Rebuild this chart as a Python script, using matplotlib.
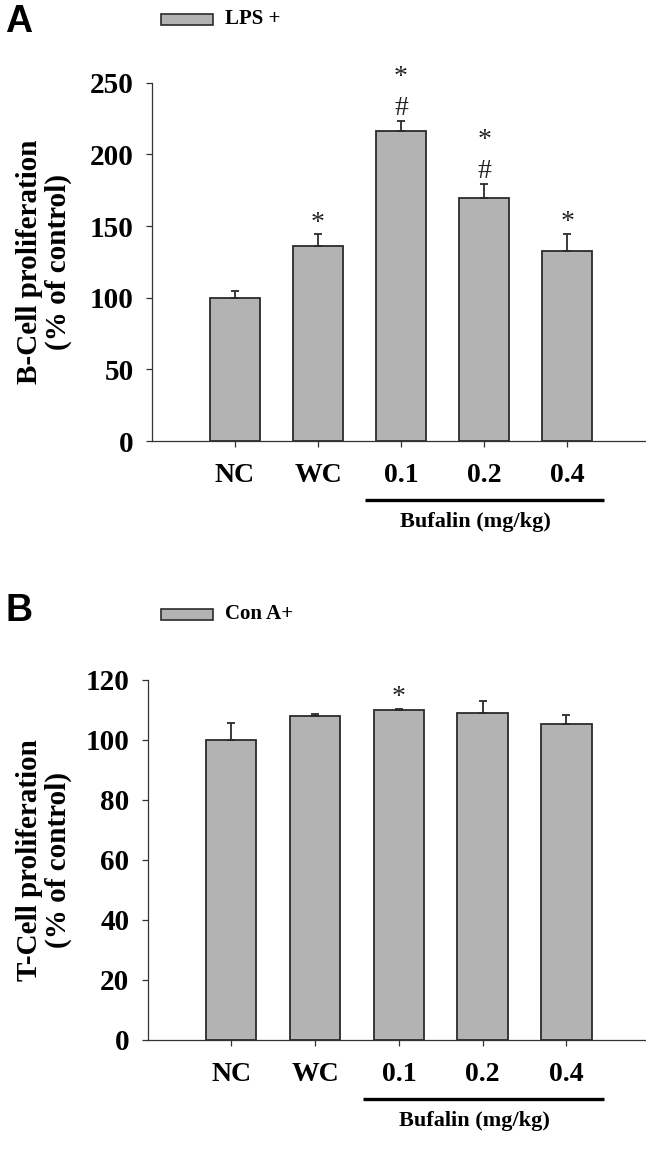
import matplotlib
matplotlib.use("Agg")
import matplotlib.pyplot as plt
from matplotlib.patches import Rectangle
from matplotlib.transforms import offset_copy
import numpy as np

# ---- data ----
categories = ["NC", "WC", "0.1", "0.2", "0.4"]
b_cell_mean = [100, 136, 216, 169.5, 132.5]
b_cell_err = [5, 8.3, 7.6, 9.8, 12]
b_cell_marks = ["", "*", "*\n#", "*\n#", "*"]
b_yticks = [0, 50, 100, 150, 200, 250]

t_cell_mean = [100, 108, 110, 109, 105.3]
t_cell_err = [5.8, 0.6, 0.4, 4, 3]
t_cell_marks = ["", "", "*", "", ""]
t_yticks = [0, 20, 40, 60, 80, 100, 120]

group_label = "Bufalin (mg/kg)"

W, H = 646, 1151
DPI = 100
fig = plt.figure(figsize=(W / DPI, H / DPI), dpi=DPI)

SERIF = "Liberation Serif"
BAR_COLOR = "#b3b3b3"
EDGE = "#2b2b2b"


def px_rect(left, top, right, bottom):
    return [left / W, 1 - bottom / H, (right - left) / W, (bottom - top) / H]


def draw_panel(rect, means, errs, marks, yticks, ylabel, letter, legend_text,
               letter_y, legend_y, ylabel_x):
    ax = fig.add_axes(rect)
    x = np.arange(len(categories))
    ax.bar(x, means, width=0.6, color=BAR_COLOR, edgecolor=EDGE, linewidth=1.3,
           zorder=2)
    ax.errorbar(x, means, yerr=[np.zeros(len(errs)), errs], fmt="none",
                ecolor=EDGE, elinewidth=1.3, capsize=3.2, capthick=1.3, zorder=3)
    ax.set_xlim(-1.0, 4.95)
    ax.set_ylim(0, yticks[-1])
    ax.set_yticks(yticks)
    ax.set_xticks(x)
    ax.set_xticklabels(categories)
    for s in ["top", "right"]:
        ax.spines[s].set_visible(False)
    for s in ["left", "bottom"]:
        ax.spines[s].set_linewidth(0.9)
        ax.spines[s].set_color("#333333")
    ax.tick_params(axis="both", direction="out", length=4, width=0.9,
                   color="#333333")
    ax.tick_params(axis="x", pad=12)
    ax.tick_params(axis="y", pad=9)
    for lab in ax.get_xticklabels():
        lab.set_fontfamily(SERIF)
        lab.set_fontweight("bold")
        lab.set_fontsize(20)
    for lab in ax.get_yticklabels():
        lab.set_fontfamily(SERIF)
        lab.set_fontweight("bold")
        lab.set_fontsize(21)
    # significance marks
    for xi, m, e, mk in zip(x, means, errs, marks):
        if not mk:
            continue
        lines = mk.split("\n")
        top = m + e
        if len(lines) == 1:
            offs = [3.3]
        else:
            offs = [26.3, 4.3]
        for sym, off in zip(lines, offs):
            ax.annotate(sym, xy=(xi, top), xytext=(0, off), textcoords="offset points",
                        ha="center", va="baseline", fontfamily=SERIF, fontsize=20,
                        color="#222222")
    # bufalin underline
    trans = ax.get_xaxis_transform()
    line_trans = offset_copy(trans, fig=fig, x=0, y=-42.5, units="points")
    ax.plot([1.57, 4.45], [0, 0], transform=line_trans, color="black", lw=2.4,
            clip_on=False, solid_capstyle="butt")
    ax.annotate(group_label, xy=(2.9, 0), xycoords=trans,
                xytext=(0, -58), textcoords="offset points", ha="center",
                va="center", fontfamily=SERIF, fontweight="bold", fontsize=16,
                annotation_clip=False)
    ax.set_ylabel(ylabel, fontfamily=SERIF, fontweight="bold", fontsize=21,
                  linespacing=1.1)
    ax.yaxis.set_label_coords(ylabel_x, 0.5)
    # panel letter and legend
    fig.text(5 / W, 1 - letter_y / H, letter, fontfamily="Liberation Sans",
             fontweight="bold", fontsize=27, ha="left", va="center")
    fig.patches.append(Rectangle((161 / W, 1 - (legend_y + 5.5) / H), 52 / W, 11 / H,
                                 transform=fig.transFigure, facecolor=BAR_COLOR,
                                 edgecolor=EDGE, linewidth=1.2))
    fig.text(225 / W, 1 - legend_y / H, legend_text, fontfamily=SERIF,
             fontweight="bold", fontsize=15, ha="left", va="center")
    return ax


axA = draw_panel(px_rect(152, 82.7, 646, 441), b_cell_mean, b_cell_err, b_cell_marks,
                 b_yticks, "B-Cell proliferation\n(% of control)", "A", "LPS +",
                 22, 19, (72 - 152) / 494)
axB = draw_panel(px_rect(147.5, 680, 646, 1040), t_cell_mean, t_cell_err, t_cell_marks,
                 t_yticks, "T-Cell proliferation\n(% of control)", "B", "Con A+",
                 611, 614, (72 - 147.5) / 498.5)

fig.savefig("out.png", dpi=DPI)
